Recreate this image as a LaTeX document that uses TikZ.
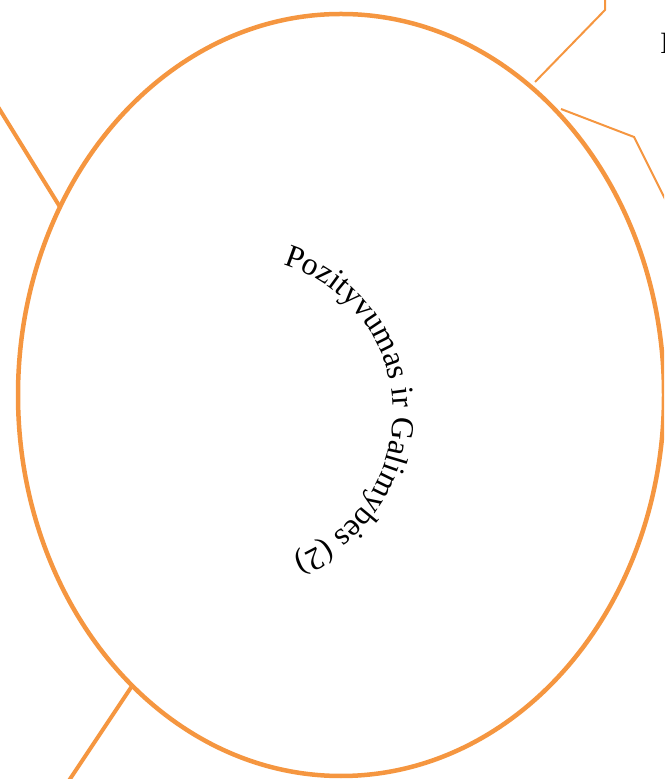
\documentclass[tikz,border=0pt]{standalone}
\usepackage{fontspec}
\setmainfont{Liberation Serif}
\usetikzlibrary{decorations.text}
\definecolor{orng}{RGB}{245,150,64}
\newcommand{\arcfont}{\fontsize{32}{32}\selectfont}
\begin{document}
\begin{tikzpicture}[x=1pt,y=1pt,
  ring/.style={draw=orng,line width=4.5pt},
  thickline/.style={draw=orng,line width=4pt},
  thinline/.style={draw=orng,line width=2pt}]
\useasboundingbox (0,0) rectangle (664,779);
\clip (0,0) rectangle (664,779);
% main ellipse
\coordinate (C) at (341,384);
\draw[ring] (C) ellipse [x radius=323, y radius=381];
% connectors
\coordinate (tl0) at (-5,677);
\coordinate (tl1) at (60,572);
\draw[thickline] (tl0) -- (tl1);
\coordinate (bl0) at (132,93);
\coordinate (bl1) at (66,-6);
\draw[thickline] (bl0) -- (bl1);
\coordinate (tr0) at (535,697);
\coordinate (tr1) at (605,769);
\coordinate (tr2) at (605,785);
\draw[thinline] (tr0) -- (tr1) -- (tr2);
\coordinate (ts0) at (561,670);
\coordinate (ts1) at (634,642);
\coordinate (ts2) at (674,562);
\draw[thinline] (ts0) -- (ts1) -- (ts2);
% partial label at right edge
\node[anchor=base west,inner sep=0pt,font=\fontsize{31}{31}\selectfont] (lbl) at (660,725) {I};
% curved text
\path[font=\arcfont,decorate,decoration={text along path,text align=center,
  text={|\arcfont|Pozityvumas ir Galimybės (2)}}]
  (238,366) ++(90:155) arc[start angle=90,end angle=-86,radius=155];
\end{tikzpicture}
\end{document}
